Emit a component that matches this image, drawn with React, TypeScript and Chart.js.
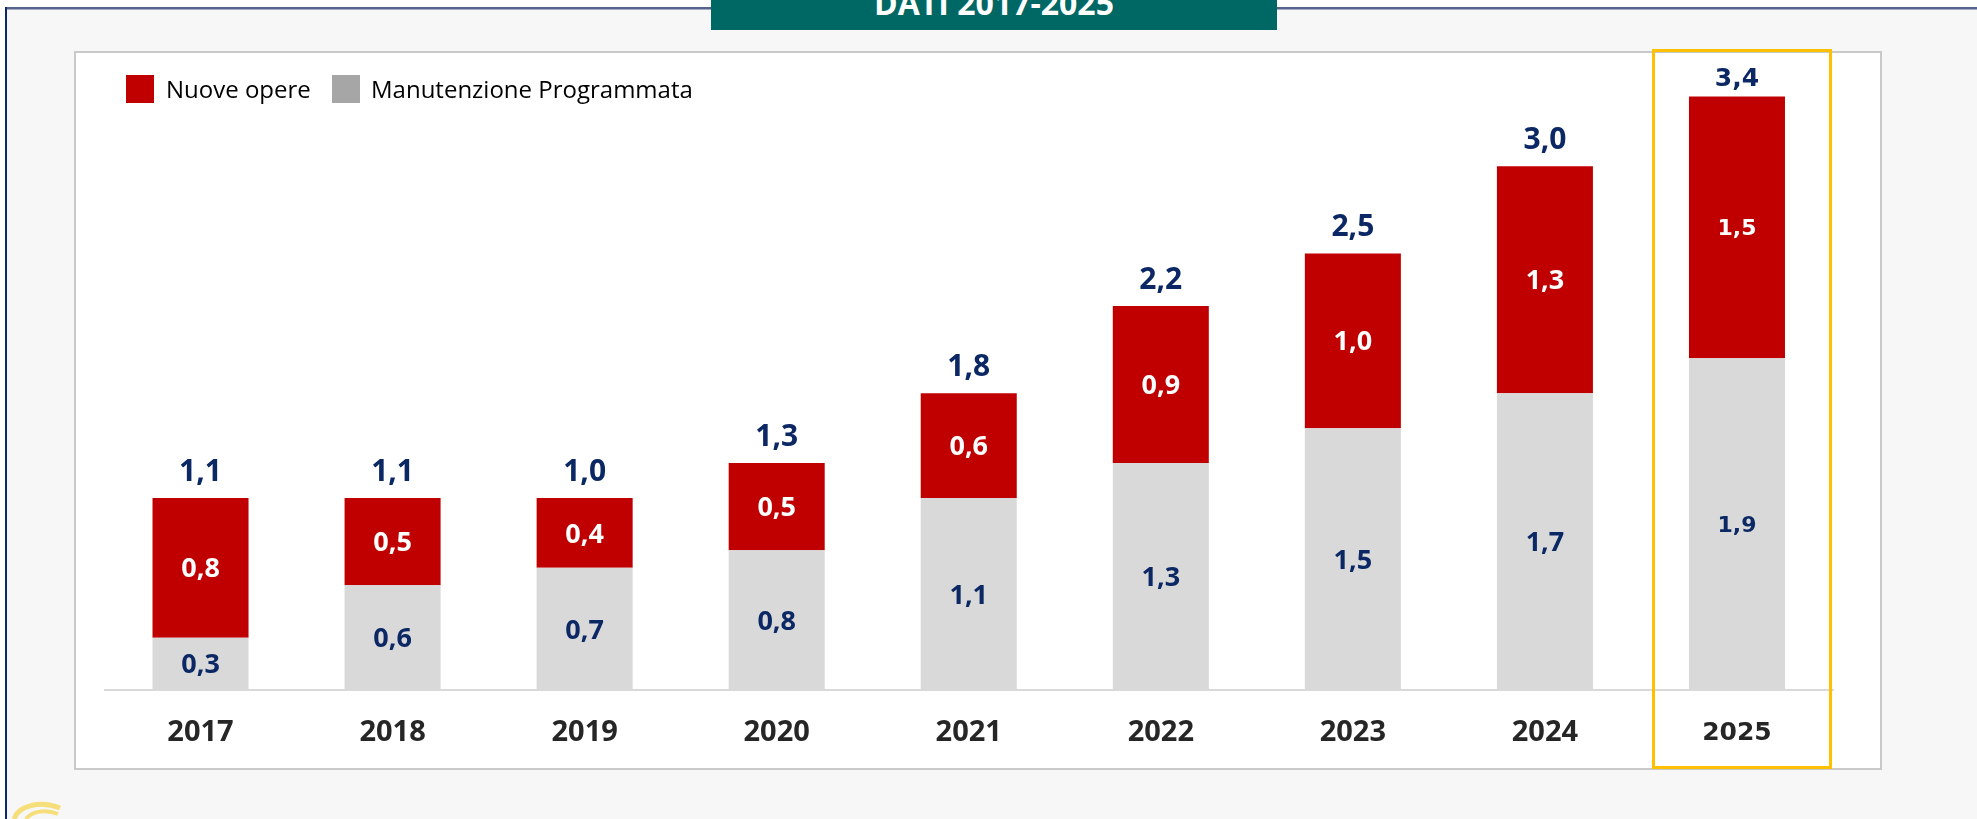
import React, { useEffect, useRef } from "react";
import { Chart, registerables } from "chart.js";

Chart.register(...registerables);

// ---------- data ----------
const years = ["2017", "2018", "2019", "2020", "2021", "2022", "2023", "2024", "2025"];
const manutenzioneProgrammata = [0.3, 0.6, 0.7, 0.8, 1.1, 1.3, 1.5, 1.7, 1.9];
const nuoveOpere = [0.8, 0.5, 0.4, 0.5, 0.6, 0.9, 1.0, 1.3, 1.5];
const totali = [1.1, 1.1, 1.0, 1.3, 1.8, 2.2, 2.5, 3.0, 3.4];
const seriesNames = ["Nuove opere", "Manutenzione Programmata"];
const highlightYear = "2025";
const titleText = "DATI 2017-2025";

// ---------- styles ----------
const RED = "#c00000";
const GRAY = "#d9d9d9";
const LEGEND_GRAY = "#a6a6a6";
const NAVY = "#0b2864";
const DARK = "#262626";

const fmt = (v: number) => v.toFixed(1).replace(".", ",");

const OPEN = '"Open Sans", sans-serif';
const DEJA = '"DejaVu Sans", sans-serif';

function drawCentered(ctx: CanvasRenderingContext2D, text: string, x: number, cy: number, size: number, family: string, color: string, capRatio: number) {
  ctx.font = `bold ${size}px ${family}`;
  ctx.fillStyle = color;
  ctx.textAlign = "center";
  ctx.textBaseline = "alphabetic";
  ctx.fillText(text, x, cy + (size * capRatio) / 2);
}

const labelsPlugin = {
  id: "barLabels",
  afterDatasetsDraw(chart: any) {
    const ctx: CanvasRenderingContext2D = chart.ctx;
    ctx.save();
    // segment labels
    chart.data.datasets.forEach((ds: any, di: number) => {
      const meta = chart.getDatasetMeta(di);
      meta.data.forEach((bar: any, i: number) => {
        const hl = years[i] === highlightYear;
        const p = bar.getProps(["x", "y", "base"], true);
        const cy = (p.y + p.base) / 2;
        const color = di === 0 ? NAVY : "#ffffff";
        const txt = fmt(ds.data[i]);
        if (hl) drawCentered(ctx, txt, p.x, cy, 22, DEJA, color, 0.729);
        else drawCentered(ctx, txt, p.x, cy, 27, OPEN, color, 0.714);
      });
    });
    // totals
    const topMeta = chart.getDatasetMeta(1);
    topMeta.data.forEach((bar: any, i: number) => {
      const hl = years[i] === highlightYear;
      const p = bar.getProps(["x", "y"], true);
      if (hl) drawCentered(ctx, fmt(totali[i]), p.x, p.y - 20, 25, DEJA, NAVY, 0.729);
      else drawCentered(ctx, fmt(totali[i]), p.x, p.y - 28, 30, OPEN, NAVY, 0.714);
    });
    // category labels
    const xs = chart.scales.x;
    const bottom = chart.chartArea.bottom;
    years.forEach((yr, i) => {
      const x = xs.getPixelForValue(i);
      if (yr === highlightYear) drawCentered(ctx, yr, x, bottom + 41, 25, DEJA, DARK, 0.729);
      else drawCentered(ctx, yr, x, bottom + 41, 29, OPEN, DARK, 0.714);
    });
    ctx.restore();
  },
};

function BarChart() {
  const ref = useRef<HTMLCanvasElement | null>(null);
  useEffect(() => {
    if (!ref.current) return;
    const chart = new Chart(ref.current, {
      type: "bar",
      data: {
        labels: years,
        datasets: [
          {
            label: seriesNames[1],
            data: manutenzioneProgrammata,
            backgroundColor: GRAY,
            borderWidth: 0,
            barPercentage: 0.5,
            categoryPercentage: 1,
          },
          {
            label: seriesNames[0],
            data: nuoveOpere,
            backgroundColor: RED,
            borderWidth: 0,
            barPercentage: 0.5,
            categoryPercentage: 1,
          },
        ],
      },
      options: {
        animation: false,
        responsive: false,
        maintainAspectRatio: false,
        layout: { padding: { left: 28.5, right: 48, top: 26, bottom: 0 } },
        plugins: {
          legend: { display: false },
          tooltip: { enabled: false },
          title: { display: false },
        },
        scales: {
          x: {
            stacked: true,
            grid: { display: false, drawTicks: false },
            border: { display: true, color: "#d9d9d9", width: 2 },
            ticks: { display: false },
            afterFit: (scale: any) => {
              scale.height = 78;
            },
          },
          y: {
            stacked: true,
            display: false,
            min: 0,
            max: 3.5,
          },
        },
      },
      plugins: [labelsPlugin],
    });
    return () => chart.destroy();
  }, []);
  return <canvas ref={ref} width={1805} height={715} style={{ position: "absolute", left: 76, top: 53, width: 1805, height: 715 }} />;
}

export default function App() {
  const legendItems = [
    { name: seriesNames[0], color: RED, boxLeft: 126, textLeft: 166 },
    { name: seriesNames[1], color: LEGEND_GRAY, boxLeft: 332, textLeft: 371 },
  ];
  return (
    <div style={{ position: "fixed", left: 0, top: 0, width: 1977, height: 819, background: "#ffffff", overflow: "hidden", fontFamily: OPEN }}>
      {/* slide background */}
      <div style={{ position: "absolute", left: 7, top: 9, right: 0, bottom: 0, background: "#f7f7f7" }} />
      {/* frame lines */}
      <div style={{ position: "absolute", left: 5, top: 7, right: 0, height: 2, background: "#556488" }} />
      <div style={{ position: "absolute", left: 5, top: 9, right: 0, height: 1, background: "#a3acc2" }} />
      <div style={{ position: "absolute", left: 5, top: 7, width: 2, bottom: 0, background: "#0d2868" }} />
      {/* title box */}
      <div style={{ position: "absolute", left: 711, top: 0, width: 566, height: 30, background: "#006864", overflow: "hidden" }}>
        <span style={{ position: "absolute", left: 0, width: 566, top: -13, textAlign: "center", color: "#ffffff", fontWeight: 700, fontSize: 32, lineHeight: "32px", whiteSpace: "nowrap" }}>
          {titleText}
        </span>
      </div>
      {/* white chart panel */}
      <div style={{ position: "absolute", left: 74, top: 51, width: 1808, height: 719, boxSizing: "border-box", background: "#ffffff", border: "2px solid #c9c9c9" }} />
      <BarChart />
      {/* legend */}
      {legendItems.map((it) => (
        <React.Fragment key={it.name}>
          <div style={{ position: "absolute", left: it.boxLeft, top: 75, width: 28, height: 28, background: it.color }} />
          <div style={{ position: "absolute", left: it.textLeft, top: 72, fontSize: 24, lineHeight: "34px", color: "#000000", whiteSpace: "nowrap" }}>{it.name}</div>
        </React.Fragment>
      ))}
      {/* highlight box */}
      <div style={{ position: "absolute", left: 1652, top: 49, width: 180, height: 720, boxSizing: "border-box", border: "3px solid #ffc000", pointerEvents: "none" }} />
      {/* partial logo */}
      <svg style={{ position: "absolute", left: 10, top: 798 }} width={60} height={21}>
        <path d="M4 21 C 8 8, 30 2, 50 10" stroke="#f6df7a" strokeWidth={5} fill="none" />
        <path d="M16 21 C 22 13, 36 11, 48 16" stroke="#f6df7a" strokeWidth={4} fill="none" />
      </svg>
    </div>
  );
}
